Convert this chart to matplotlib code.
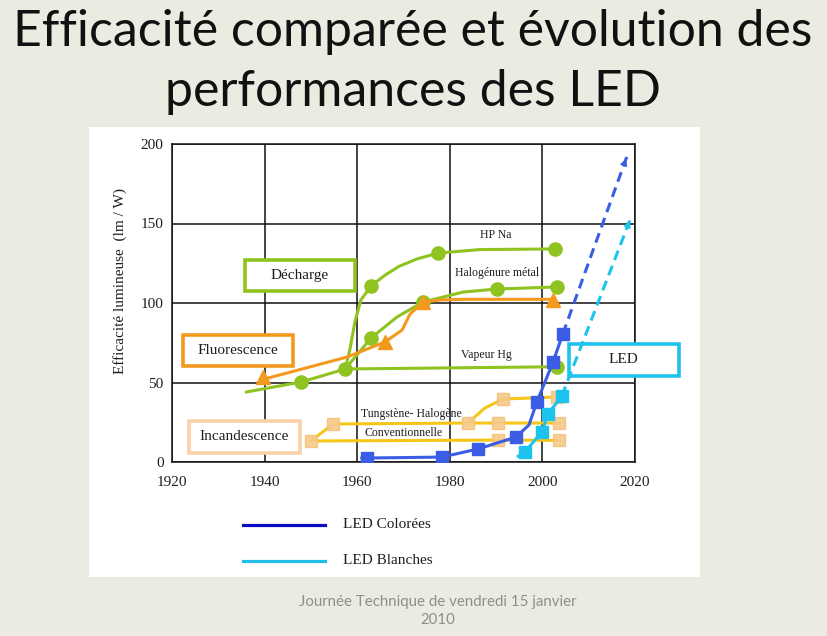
import matplotlib
matplotlib.use("Agg")
import matplotlib.pyplot as plt
from matplotlib.patches import Rectangle, FancyArrowPatch
from matplotlib.lines import Line2D

# ---------------- data ----------------
years_ticks = [1920, 1940, 1960, 1980, 2000, 2020]
eff_ticks = [0, 50, 100, 150, 200]

# Décharge (green)
base_x = [1936.0, 1947.9, 1957.4]
base_y = [44.0, 50.3, 58.5]
base_mk_x = [1947.9, 1957.4]
base_mk_y = [50.3, 58.5]

vapeur_x = [1957.4, 1980.0, 2003.2]
vapeur_y = [58.5, 59.2, 59.9]
vapeur_mk_x = [2003.2]
vapeur_mk_y = [59.9]

hpna_x = [1957.4, 1958.4, 1959.5, 1960.8, 1963.0, 1966.0, 1969.0, 1972.9, 1977.5, 1986.5, 2002.7]
hpna_y = [58.5, 70.4, 88.0, 101.9, 110.7, 117.5, 123.0, 127.7, 131.4, 133.6, 134.0]
hpna_mk_x = [1963.0, 1977.5, 2002.7]
hpna_mk_y = [110.7, 131.4, 134.0]

halo_x = [1957.4, 1963.0, 1968.6, 1974.2, 1982.9, 1990.2, 2003.2]
halo_y = [58.5, 78.0, 91.2, 100.6, 106.9, 108.8, 110.1]
halo_mk_x = [1963.0, 1974.2, 1990.2, 2003.2]
halo_mk_y = [78.0, 100.6, 108.8, 110.1]

# Fluorescence (orange)
fluo_x = [1939.2, 1957.8, 1966.0, 1969.7, 1971.4, 1974.2, 1977.9, 1982.9, 2002.3]
fluo_y = [51.6, 66.0, 75.5, 83.0, 93.0, 100.6, 101.9, 102.3, 102.3]
fluo_mk_x = [1939.7, 1966.0, 1974.2, 2002.3]
fluo_mk_y = [53.5, 75.5, 100.6, 101.9]

# Incandescence (yellow)
conv_x = [1950.0, 1990.4, 2003.6]
conv_y = [13.2, 13.8, 13.6]
tung_x = [1950.0, 1954.8, 1983.9, 1990.4, 2003.6]
tung_y = [13.2, 23.9, 24.5, 24.5, 24.5]
tung2_x = [1983.9, 1987.6, 1991.5, 2003.2]
tung2_y = [24.5, 34.0, 39.6, 40.9]
incand_mk_x = [1950.0, 1954.8, 1983.9, 1990.4, 2003.6, 1990.4, 2003.6, 1991.5, 2003.2]
incand_mk_y = [13.2, 23.9, 24.5, 24.5, 24.5, 13.8, 13.6, 39.6, 40.9]

# LED colorées (blue)
ledc_x = [1961.0, 1962.1, 1978.3, 1986.1, 1994.3, 1997.1, 1998.8, 2002.3, 2004.4]
ledc_y = [2.5, 2.5, 3.1, 8.2, 15.7, 23.3, 37.7, 62.9, 80.5]
ledc_mk_x = [1962.1, 1978.3, 1986.1, 1994.3, 1998.8, 2002.3, 2004.4]
ledc_mk_y = [2.5, 3.1, 8.2, 15.7, 37.7, 62.9, 80.5]
ledc_proj_x = [2004.4, 2018.3]
ledc_proj_y = [80.5, 192.5]

# LED blanches (cyan)
ledb_start_x = [1994.5, 1996.2]
ledb_start_y = [3.1, 6.3]
ledb_x = [1996.2, 1999.9, 2001.2, 2004.2]
ledb_y = [6.3, 18.9, 30.2, 41.5]
ledb_proj_x = [2004.2, 2019.1]
ledb_proj_y = [41.5, 153.5]

# ---------------- styling ----------------
BG = "#ecebe2"
GREEN = "#8fc31f"
ORANGE = "#f39a1e"
YELLOW = "#f5c518"
YMARK = "#f7c98c"
BLUE = "#3b5de6"
CYAN = "#1cc3ee"
SERIF = "Liberation Serif"
TXT = "#1e1e1e"

W, H = 827, 636
fig = plt.figure(figsize=(W / 100, H / 100), dpi=100, facecolor=BG)


def fx(x):
    return x / W


def fy(y):
    return 1 - y / H


# white panel
fig.patches.append(Rectangle((fx(89), fy(577)), (700 - 89) / W, (577 - 127) / H,
                             transform=fig.transFigure, facecolor="white",
                             edgecolor="none", zorder=-5))

ax = fig.add_axes([fx(172), fy(462), (635 - 172) / W, (462 - 144) / H])
ax.set_zorder(1)
ax.set_facecolor("white")
ax.set_xlim(1920, 2020)
ax.set_ylim(0, 200)
ax.set_xticks(years_ticks)
ax.set_yticks(eff_ticks)
ax.set_xticklabels([str(v) for v in years_ticks], fontfamily=SERIF, fontsize=11, color=TXT)
ax.set_yticklabels([str(v) for v in eff_ticks], fontfamily=SERIF, fontsize=11, color=TXT)
ax.tick_params(axis="both", length=0)
ax.tick_params(axis="x", pad=10)
ax.tick_params(axis="y", pad=6)
ax.grid(True, color="#111111", linewidth=1.1)
ax.set_axisbelow(True)
for s in ax.spines.values():
    s.set_color("#111111")
    s.set_linewidth(1.1)

lw = 2.2
# green
for xs, ys in [(base_x, base_y), (vapeur_x, vapeur_y), (hpna_x, hpna_y), (halo_x, halo_y)]:
    ax.plot(xs, ys, color=GREEN, lw=lw, solid_capstyle="round", solid_joinstyle="round", zorder=3)
for xs, ys in [(base_mk_x, base_mk_y), (vapeur_mk_x, vapeur_mk_y), (hpna_mk_x, hpna_mk_y), (halo_mk_x, halo_mk_y)]:
    ax.plot(xs, ys, ls="none", marker="o", ms=9.5, color=GREEN, zorder=4)

# orange
ax.plot(fluo_x, fluo_y, color=ORANGE, lw=lw, solid_joinstyle="round", zorder=5)
ax.plot(fluo_mk_x, fluo_mk_y, ls="none", marker="^", ms=10, color=ORANGE, zorder=5)

# yellow
for xs, ys in [(conv_x, conv_y), (tung_x, tung_y), (tung2_x, tung2_y)]:
    ax.plot(xs, ys, color=YELLOW, lw=lw, solid_joinstyle="round", zorder=3)
ax.plot(incand_mk_x, incand_mk_y, ls="none", marker="s", ms=8.5, color=YMARK,
        markeredgecolor="#f5c27a", alpha=0.9, zorder=3.5)

# LED colorées
ax.plot(ledc_x, ledc_y, color=BLUE, lw=lw, solid_joinstyle="round", zorder=6)
ax.plot(ledc_mk_x, ledc_mk_y, ls="none", marker="s", ms=8.5, color=BLUE, zorder=6)
ax.plot(ledc_proj_x, ledc_proj_y, color=BLUE, lw=lw, dashes=(3.3, 2.0), zorder=6)
ax.add_patch(FancyArrowPatch((ledc_proj_x[0] + 0.9 * (ledc_proj_x[1] - ledc_proj_x[0]),
                              ledc_proj_y[0] + 0.9 * (ledc_proj_y[1] - ledc_proj_y[0])),
                             (ledc_proj_x[1], ledc_proj_y[1]), arrowstyle="-|>",
                             mutation_scale=14, color=BLUE, lw=0, zorder=6, clip_on=False))

# LED blanches
ax.plot(ledb_start_x, ledb_start_y, color=CYAN, lw=lw, dashes=(2.0, 1.5), zorder=6)
ax.plot(ledb_x, ledb_y, color=CYAN, lw=lw, solid_joinstyle="round", zorder=6)
ax.plot(ledb_x, ledb_y, ls="none", marker="s", ms=8.5, color=CYAN, zorder=6)
ax.plot(ledb_proj_x, ledb_proj_y, color=CYAN, lw=lw, dashes=(3.3, 2.0), zorder=6)
ax.add_patch(FancyArrowPatch((ledb_proj_x[0] + 0.9 * (ledb_proj_x[1] - ledb_proj_x[0]),
                              ledb_proj_y[0] + 0.9 * (ledb_proj_y[1] - ledb_proj_y[0])),
                             (ledb_proj_x[1], ledb_proj_y[1]), arrowstyle="-|>",
                             mutation_scale=14, color=CYAN, lw=0, zorder=6, clip_on=False))

# small curve labels
small = dict(fontfamily=SERIF, fontsize=8.5, color=TXT, ha="center", va="center", zorder=7)
ax.text(1990.0, 142.8, "HP Na", **small)
ax.text(1990.2, 118.9, "Halogénure métal", **small)
ax.text(1988.0, 67.3, "Vapeur Hg", **small)
ax.text(1971.8, 30.2, "Tungstène- Halogène", **small)
ax.text(1970.1, 18.2, "Conventionnelle", **small)


# family boxes (figure pixel positions)
def box(x0, y0, x1, y1, color, label):
    r = Rectangle((fx(x0), fy(y1)), (x1 - x0) / W, (y1 - y0) / H, transform=fig.transFigure,
                  facecolor="white", edgecolor=color, linewidth=2.6, zorder=10)
    fig.patches.append(r)
    fig.text(fx((x0 + x1) / 2), fy((y0 + y1) / 2), label, ha="center", va="center",
             fontfamily=SERIF, fontsize=11, color=TXT, zorder=11)


box(244.5, 260.5, 354.5, 291.5, GREEN, "Décharge")
box(182.5, 334.5, 292.5, 365.5, ORANGE, "Fluorescence")
box(188.5, 420.5, 299.5, 452.5, "#f9d0a8", "Incandescence")

# LED box sits inside the axes drawing order: above spines, below the LED lines
led_box = Rectangle((fx(568.5), fy(375.5)), 110 / W, 32 / H, transform=fig.transFigure,
                    facecolor="white", edgecolor=CYAN, linewidth=2.6, zorder=5.5,
                    clip_on=False)
ax.add_patch(led_box)
ax.text(fx(623.5), fy(359.5), "LED", transform=fig.transFigure, ha="center", va="center",
        fontfamily=SERIF, fontsize=11, color=TXT, zorder=5.6, clip_on=False)

# y label
fig.text(fx(120), fy(281), "Efficacité lumineuse  (lm / W)", rotation=90, ha="center",
         va="center", fontfamily=SERIF, fontsize=11, color=TXT)

# legend below chart
fig.add_artist(Line2D([fx(243), fx(325)], [fy(525), fy(525)], color="#0b0bc4", lw=2.3))
fig.add_artist(Line2D([fx(243), fx(325)], [fy(561), fy(561)], color="#22bde6", lw=2.3))
fig.text(fx(343), fy(525), "LED Colorées", ha="left", va="center", fontfamily=SERIF,
         fontsize=11, color=TXT)
fig.text(fx(343), fy(561), "LED Blanches", ha="left", va="center", fontfamily=SERIF,
         fontsize=11, color=TXT)

# title and footer, fitted to measured widths
renderer = fig.canvas.get_renderer()


def fitted_text(x, y, s, target_w, size0, **kw):
    t = fig.text(fx(x), fy(y), s, fontsize=size0, **kw)
    w = t.get_window_extent(renderer=renderer).width
    t.set_fontsize(size0 * target_w / w)
    return t


t1 = fitted_text(413, 46, "Efficacité comparée et évolution des", 797, 30,
                 ha="center", va="baseline", fontfamily="Lato", color="#111111")
fig.text(fx(413), fy(106), "performances des LED", ha="center", va="baseline",
         fontfamily="Lato", color="#111111", fontsize=t1.get_fontsize())

f1 = fitted_text(438, 602, "Journée Technique de vendredi 15 janvier", 278, 10,
                 ha="center", va="center", fontfamily="Lato", color="#8e8e8e")
fig.text(fx(438), fy(620), "2010", ha="center", va="center", fontfamily="Lato",
         color="#8e8e8e", fontsize=f1.get_fontsize())

fig.savefig("out.png", dpi=100, facecolor=BG)
